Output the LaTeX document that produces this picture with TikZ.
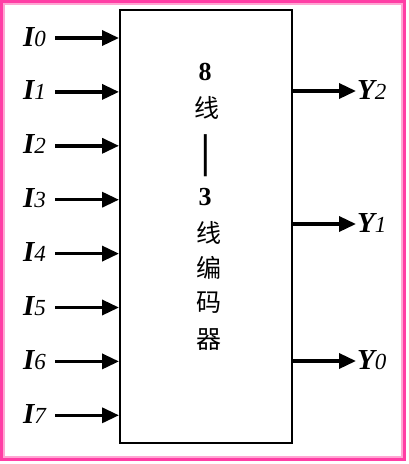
\documentclass[tikz,border=0pt]{standalone}
\usepackage{fontspec}
\usepackage{graphicx}
\setmainfont{Liberation Serif}
\newfontfamily\cjk{Noto Sans CJK SC}
\usetikzlibrary{arrows.meta,calc}
\definecolor{framedark}{HTML}{FF3EA5}
\definecolor{framelight}{HTML}{FFA6D3}
\definecolor{ink}{HTML}{000000}
\tikzset{
  sig/.style={-{Triangle[length=17pt,width=15pt]}, line width=3.5pt, draw=ink},
  encbox/.style={draw=ink, line width=2pt, minimum width=172pt, minimum height=433pt, inner sep=0pt},
  inlbl/.style={anchor=base east, inner sep=0pt},
  outlbl/.style={anchor=base west, inner sep=0pt},
  hz/.style={inner sep=0pt, font=\cjk\fontsize{25}{25}\selectfont},
  num/.style={inner sep=0pt, font=\bfseries\fontsize{26}{26}\selectfont}
}
\newcommand{\SigName}[2]{% letter, index
  {\bfseries\itshape\fontsize{29}{29}\selectfont #1}{\itshape\fontsize{23}{23}\selectfont #2}}

\begin{document}
\begin{tikzpicture}[x=1pt,y=-1pt]
  \useasboundingbox (0,0) rectangle (409,464);
  % frame
  \draw[framedark, line width=3pt] (1.5,1.5) rectangle (404.5,459.5);
  \draw[framelight, line width=2pt] (4,4) rectangle (402,457);

  \node[encbox] (enc) at (206,226.5) {};

  % inputs
  \foreach \i in {0,...,7}{
    \pgfmathsetmacro{\yy}{38+53.9*\i}
    \node[inlbl] (in\i) at (46,\yy+8) {\SigName{I}{\i}};
    \coordinate (s\i) at (55,\yy);
    \draw[sig] (s\i) -- (enc.west |- s\i);
  }

  % outputs
  \foreach \j/\yy in {2/91,1/224,0/361}{
    \coordinate (t\j) at (356,\yy);
    \draw[sig] (enc.east |- t\j) -- (t\j);
    \node[outlbl] (out\j) at (357,\yy+8) {\SigName{Y}{\j}};
  }

  % title in the box
  \node[num] (n8) at (205,72) {8};
  \node[hz] (c1) at (207,108) {线};
  \node[num, rotate=90] (dash) at (210,156) {\scalebox{1.6}[1.6]{—}};
  \node[num] (n3) at (205,197) {3};
  \node[hz] (c2) at (209,233) {线};
  \node[hz] (c3) at (209,268) {编};
  \node[hz] (c4) at (209,303) {码};
  \node[hz] (c5) at (209,340) {器};
\end{tikzpicture}
\end{document}
